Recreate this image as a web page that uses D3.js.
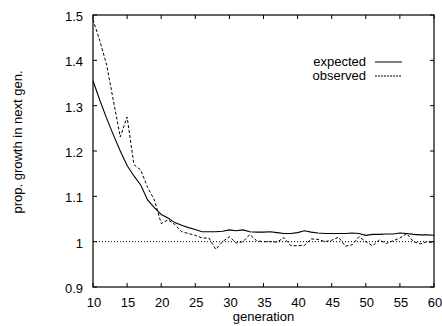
<!DOCTYPE html>
<html>
<head>
<meta charset="utf-8">
<script src="https://cdn.jsdelivr.net/npm/d3@7"></script>
<style>
  body{margin:0;background:#fff;}
  text{font-family:"Liberation Sans",Arial,sans-serif;font-size:13px;fill:#000;}
</style>
</head>
<body>
<div id="grafico"></div>
<script>
// data
const generations = d3.range(10, 61);
const expected = [1.355,1.312,1.272,1.235,1.200,1.168,1.145,1.125,1.092,1.075,
  1.060,1.052,1.042,1.036,1.031,1.027,1.022,1.022,1.022,1.023,
  1.026,1.024,1.026,1.022,1.021,1.021,1.022,1.020,1.018,1.018,
  1.020,1.024,1.021,1.019,1.018,1.018,1.018,1.018,1.019,1.018,
  1.014,1.016,1.016,1.017,1.017,1.019,1.018,1.016,1.015,1.015,1.014];
const observed = [1.490,1.443,1.390,1.310,1.231,1.275,1.170,1.158,1.120,1.092,
  1.040,1.048,1.038,1.022,1.018,1.014,1.008,1.008,0.983,1.000,
  1.011,0.997,1.000,1.016,1.002,1.000,1.000,0.999,1.009,0.991,
  0.991,0.992,1.006,1.005,1.000,1.003,1.010,0.990,0.993,1.011,
  1.000,0.991,1.004,0.996,1.002,1.008,1.018,1.000,0.995,1.000,0.997];
const xTicks = [10,15,20,25,30,35,40,45,50,55,60];
const yTicks = [0.9,1.0,1.1,1.2,1.3,1.4,1.5];
const seriesNames = ["expected","observed"];

let graficar = () => {
    // dimensions
    const margin = {top:15, right:8, bottom:39, left:93};
    const width = 442 - margin.left - margin.right;
    const height = 326 - margin.top - margin.bottom;

    let svg = d3.select("#grafico")
      .append("svg")
        .attr("width", width + margin.left + margin.right)
        .attr("height", height + margin.top + margin.bottom)
      .append("g")
        .attr("transform", `translate(${margin.left},${margin.top})`);

    let x = d3.scaleLinear().domain([10, 60]).range([0, width]);
    let y = d3.scaleLinear().domain([0.9, 1.5]).range([height, 0]);

    // ticks inside, mirrored on all sides (gnuplot style)
    let tk = 4;
    xTicks.forEach(t => {
        svg.append("line").attr("x1", x(t)).attr("x2", x(t))
          .attr("y1", height).attr("y2", height - tk).attr("stroke", "#000");
        svg.append("line").attr("x1", x(t)).attr("x2", x(t))
          .attr("y1", 0).attr("y2", tk).attr("stroke", "#000");
        svg.append("text")
          .attr("x", x(t) + 1)
          .attr("y", height + 20)
          .style("text-anchor", "middle")
          .text(t);
    });
    yTicks.forEach(t => {
        svg.append("line").attr("x1", 0).attr("x2", tk)
          .attr("y1", y(t)).attr("y2", y(t)).attr("stroke", "#000");
        svg.append("line").attr("x1", width).attr("x2", width - tk)
          .attr("y1", y(t)).attr("y2", y(t)).attr("stroke", "#000");
        svg.append("text")
          .attr("x", -10)
          .attr("y", y(t) + 6)
          .style("text-anchor", "end")
          .text(t === 1 ? "1" : d3.format(".1f")(t));
    });

    // reference line at 1
    svg.append("line")
      .attr("x1", 0).attr("x2", width)
      .attr("y1", y(1)).attr("y2", y(1))
      .attr("stroke", "#000").attr("stroke-width", 1)
      .attr("stroke-dasharray", "1,2");

    let line = d3.line().x((d, i) => x(generations[i])).y(d => y(d));

    svg.append("path").datum(expected)
      .attr("d", line).attr("fill", "none")
      .attr("stroke", "#000").attr("stroke-width", 1.1);

    svg.append("path").datum(observed)
      .attr("d", line).attr("fill", "none")
      .attr("stroke", "#000").attr("stroke-width", 1)
      .attr("stroke-dasharray", "3,2");

    // frame
    svg.append("rect")
      .attr("x", 0).attr("y", 0)
      .attr("width", width).attr("height", height)
      .attr("fill", "none").attr("stroke", "#000").attr("stroke-width", 1.2);

    // axis labels
    svg.append("text")
      .attr("x", width / 2)
      .attr("y", height + 34)
      .style("text-anchor", "middle")
      .text("generation");

    svg.append("text")
      .attr("transform", "rotate(-90)")
      .attr("x", -(142 - margin.top))
      .attr("y", 22 - margin.left)
      .style("text-anchor", "middle")
      .text("prop. growth in next gen.");

    // legend
    let legend = svg.append("g").attr("id", "legend");
    seriesNames.forEach((name, i) => {
        let ly = 47 + i * 14;
        legend.append("text")
          .attr("x", 366 - margin.left)
          .attr("y", ly + 4)
          .style("text-anchor", "end")
          .text(name);
        legend.append("line")
          .attr("x1", 375 - margin.left).attr("x2", 402 - margin.left)
          .attr("y1", ly).attr("y2", ly)
          .attr("stroke", "#000").attr("stroke-width", 1)
          .attr("stroke-dasharray", i === 1 ? "2,1" : null);
    });
};

graficar();
</script>
</body>
</html>
